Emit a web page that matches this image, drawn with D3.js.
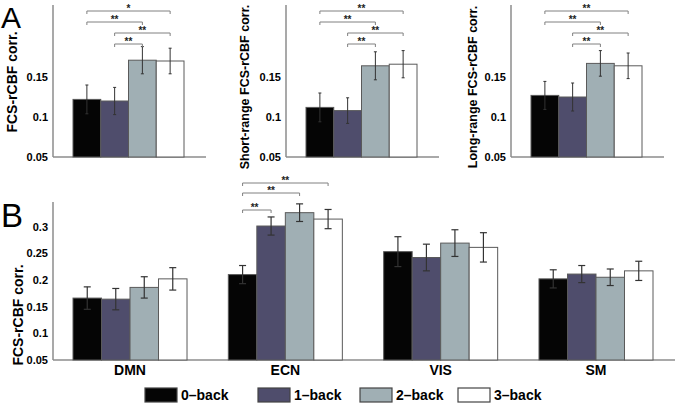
<!DOCTYPE html>
<html><head><meta charset="utf-8">
<script src="https://cdn.jsdelivr.net/npm/d3@7"></script>
<style>
html,body{margin:0;padding:0;background:#fff;}
svg{display:block;font-family:"Liberation Sans",Arial,Helvetica,sans-serif;}
</style></head>
<body>
<svg id="chart" width="677" height="405"></svg>
<script>
// ---------- data ----------
const conditions = ["0–back", "1–back", "2–back", "3–back"];
const condColors = ["#050505", "#4f4d6c", "#a0afb4", "#ffffff"];

const aTitles = ["FCS-rCBF corr.", "Short-range FCS-rCBF corr.", "Long-range FCS-rCBF corr."];
const aMeans = [
  [0.122, 0.120, 0.171, 0.170],
  [0.112, 0.108, 0.164, 0.166],
  [0.127, 0.125, 0.167, 0.164]
];
const aErrs = [
  [0.018, 0.017, 0.017, 0.016],
  [0.018, 0.016, 0.0175, 0.017],
  [0.0175, 0.0175, 0.016, 0.016]
];
const aTicks = [0.05, 0.1, 0.15];
// significance brackets: [from, to, label], listed top to bottom
const aSig = [
  [[0, 3, "*"], [0, 2, "**"], [1, 3, "**"], [1, 2, "**"]],
  [[0, 3, "**"], [0, 2, "**"], [1, 3, "**"], [1, 2, "**"]],
  [[0, 3, "**"], [0, 2, "**"], [1, 3, "**"], [1, 2, "**"]]
];

const networks = ["DMN", "ECN", "VIS", "SM"];
const bMeans = [
  [0.166, 0.164, 0.186, 0.202],
  [0.210, 0.301, 0.326, 0.314],
  [0.253, 0.242, 0.269, 0.261],
  [0.202, 0.211, 0.205, 0.217]
];
const bErrs = [
  [0.021, 0.020, 0.020, 0.021],
  [0.017, 0.017, 0.0165, 0.018],
  [0.028, 0.025, 0.025, 0.0275],
  [0.017, 0.016, 0.0155, 0.018]
];
const bTicks = [0.05, 0.1, 0.15, 0.2, 0.25, 0.3];
const bSigNetwork = "ECN";
const bSig = [[0, 3, "**"], [0, 2, "**"], [0, 1, "**"]];

// ---------- drawing ----------
const svg = d3.select("#chart");
const axisColor = "#8c8c8c";
const barStroke = "#5a5a5a";
const errColor = "#333";
const bracketColor = "#808080";

function fmt(v){ return String(+v.toFixed(2)); }

// Panel letters
svg.append("text").attr("x", 1).attr("y", 28).attr("font-size", 30).attr("fill", "#000").text("A");
svg.append("text").attr("x", 1).attr("y", 227).attr("font-size", 33).attr("fill", "#000").text("B");

// ----- Panel A -----
const aAxisX = [53, 286, 511];
const aLabelX = [12, 245, 473];
const aLabelY = [82, 87, 87];
const aLabelSize = [14, 12.5, 12.5];
const aY = d3.scaleLinear().domain([0.05, 0.24]).range([157, 5]);

aAxisX.forEach((x0, p) => {
  const g = svg.append("g");
  const x = d3.scaleBand().domain(conditions).range([x0 + 20, x0 + 131]).padding(0);
  // axes
  g.append("line").attr("x1", x0).attr("x2", x0).attr("y1", aY.range()[1]).attr("y2", aY.range()[0])
    .attr("stroke", axisColor).attr("stroke-width", 1.5);
  g.append("line").attr("x1", x0).attr("x2", x0 + 153).attr("y1", aY.range()[0]).attr("y2", aY.range()[0])
    .attr("stroke", axisColor).attr("stroke-width", 1.5);
  const yAxis = d3.axisLeft(aY).tickValues(aTicks).tickSize(0).tickPadding(5).tickFormat(fmt);
  const ya = g.append("g").attr("transform", `translate(${x0},0)`).call(yAxis);
  ya.select(".domain").remove();
  ya.selectAll("text").attr("font-size", 11).attr("font-weight", "bold").attr("fill", "#000")
    .attr("font-family", "Liberation Sans, Arial, sans-serif");
  // bars
  g.selectAll("rect.bar").data(aMeans[p]).join("rect")
    .attr("x", (d, i) => x(conditions[i]))
    .attr("width", x.bandwidth())
    .attr("y", d => aY(d))
    .attr("height", d => aY(0.05) - aY(d))
    .attr("fill", (d, i) => condColors[i])
    .attr("stroke", barStroke).attr("stroke-width", 1);
  // error bars
  aMeans[p].forEach((m, i) => {
    const cx = x(conditions[i]) + x.bandwidth() / 2;
    const e = aErrs[p][i];
    g.append("line").attr("x1", cx).attr("x2", cx).attr("y1", aY(m + e)).attr("y2", aY(m - e))
      .attr("stroke", errColor).attr("stroke-width", 1);
    [m + e, m - e].forEach(v => g.append("line").attr("x1", cx - 1.5).attr("x2", cx + 1.5)
      .attr("y1", aY(v)).attr("y2", aY(v)).attr("stroke", errColor).attr("stroke-width", 1));
  });
  // brackets
  aSig[p].forEach((s, k) => {
    const xa = x(conditions[s[0]]) + x.bandwidth() / 2;
    const xb = x(conditions[s[1]]) + x.bandwidth() / 2;
    const yy = 11 + k * 11;
    g.append("path").attr("d", `M${xa},${yy + 3}V${yy}H${xb}V${yy + 3}`)
      .attr("fill", "none").attr("stroke", bracketColor).attr("stroke-width", 1);
    g.append("text").attr("x", (xa + xb) / 2).attr("y", yy + 1).attr("text-anchor", "middle")
      .attr("font-size", 10).attr("font-weight", "bold").attr("fill", "#222").text(s[2]);
  });
  // y label
  g.append("text").attr("transform", `translate(${aLabelX[p]},${aLabelY[p]}) rotate(-90)`)
    .attr("text-anchor", "middle").attr("dominant-baseline", "central")
    .attr("font-size", aLabelSize[p]).attr("font-weight", "bold").attr("fill", "#000").text(aTitles[p]);
});

// ----- Panel B -----
const bY = d3.scaleLinear().domain([0.05, 0.346]).range([360, 202]);
const bX = d3.scaleBand().domain(networks).range([73, 653]).paddingInner(0.266).paddingOuter(0);
const bInner = d3.scaleBand().domain(conditions).range([0, bX.bandwidth()]).padding(0);
const gb = svg.append("g");
gb.append("line").attr("x1", 53).attr("x2", 53).attr("y1", 202).attr("y2", 360)
  .attr("stroke", axisColor).attr("stroke-width", 1.5);
gb.append("line").attr("x1", 53).attr("x2", 675).attr("y1", 360).attr("y2", 360)
  .attr("stroke", axisColor).attr("stroke-width", 1.5);
const byAxis = gb.append("g").attr("transform", "translate(53,0)")
  .call(d3.axisLeft(bY).tickValues(bTicks).tickSize(0).tickPadding(5).tickFormat(fmt));
byAxis.select(".domain").remove();
byAxis.selectAll("text").attr("font-size", 11).attr("font-weight", "bold").attr("fill", "#000")
  .attr("font-family", "Liberation Sans, Arial, sans-serif");

networks.forEach((n, gi) => {
  const gx = bX(n);
  gb.selectAll(null).data(bMeans[gi]).join("rect")
    .attr("x", (d, i) => gx + bInner(conditions[i]))
    .attr("width", bInner.bandwidth())
    .attr("y", d => bY(d))
    .attr("height", d => bY(0.05) - bY(d))
    .attr("fill", (d, i) => condColors[i])
    .attr("stroke", barStroke).attr("stroke-width", 1);
  bMeans[gi].forEach((m, i) => {
    const cx = gx + bInner(conditions[i]) + bInner.bandwidth() / 2;
    const e = bErrs[gi][i];
    gb.append("line").attr("x1", cx).attr("x2", cx).attr("y1", bY(m + e)).attr("y2", bY(m - e))
      .attr("stroke", errColor).attr("stroke-width", 1.2);
    [m + e, m - e].forEach(v => gb.append("line").attr("x1", cx - 3.5).attr("x2", cx + 3.5)
      .attr("y1", bY(v)).attr("y2", bY(v)).attr("stroke", errColor).attr("stroke-width", 1.2));
  });
  gb.append("text").attr("x", gx + bX.bandwidth() / 2).attr("y", 375).attr("text-anchor", "middle")
    .attr("font-size", 14).attr("font-weight", "bold").attr("fill", "#000").text(n);
});

// B brackets
{
  const gx = bX(bSigNetwork);
  const bTops = [183, 193, 210];
  bSig.forEach((s, k) => {
    const xa = gx + bInner(conditions[s[0]]) + bInner.bandwidth() / 2;
    const xb = gx + bInner(conditions[s[1]]) + bInner.bandwidth() / 2;
    const yy = bTops[k];
    gb.append("path").attr("d", `M${xa},${yy + 3}V${yy}H${xb}V${yy + 3}`)
      .attr("fill", "none").attr("stroke", bracketColor).attr("stroke-width", 1);
    gb.append("text").attr("x", xa + (k === 2 ? 12 : (xb - xa) / 2)).attr("y", yy + 1).attr("text-anchor", "middle")
      .attr("font-size", 10).attr("font-weight", "bold").attr("fill", "#222").text(s[2]);
  });
}

gb.append("text").attr("transform", "translate(18,315) rotate(-90)")
  .attr("text-anchor", "middle").attr("dominant-baseline", "central")
  .attr("font-size", 14).attr("font-weight", "bold").attr("fill", "#000").text("FCS-rCBF corr.");

// Legend
const legX = [145, 258, 360, 458];
conditions.forEach((c, i) => {
  svg.append("rect").attr("x", legX[i]).attr("y", 388).attr("width", 32).attr("height", 14)
    .attr("fill", condColors[i]).attr("stroke", "#444").attr("stroke-width", 1.2);
  svg.append("text").attr("x", legX[i] + 36).attr("y", 400).attr("font-size", 14)
    .attr("font-weight", "bold").attr("fill", "#000").text(c);
});
</script>
</body></html>
